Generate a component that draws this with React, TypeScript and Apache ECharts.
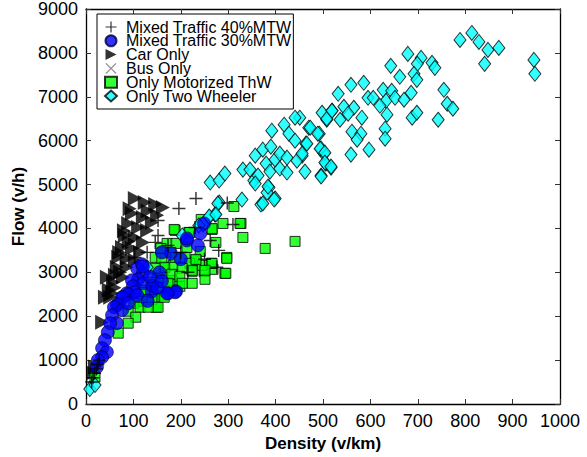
import React, { useEffect, useRef } from "react";
import * as echarts from "echarts";

const xTicks = { min: 0, max: 1000, interval: 100 };
const yTicks = { min: 0, max: 9000, interval: 1000 };

const seriesNames = [
  "Mixed Traffic 40%MTW",
  "Mixed Traffic 30%MTW",
  "Car Only",
  "Bus Only",
  "Only Motorized ThW",
  "Only Two Wheeler",
];

const mixed40: number[][] = [
  [12, 500], [15, 600], [18, 700], [22, 800], [25, 900], [28, 1000],
  [232, 4682], [196, 4455], [152, 4182], [298, 4580], [310, 4091], [262, 3727],
  [230, 4023], [276, 3114], [146, 3682], [129, 3455], [103, 3341], [152, 3841],
  [173, 3614], [200, 3450], [250, 3300], [215, 3000], [280, 3500],
];

const mixed30: number[][] = [
  [249, 4114], [241, 3886], [213, 3727], [236, 3614], [179, 3432], [160, 3455],
  [190, 2568], [173, 2523], [139, 2568], [213, 3773], [118, 3182], [108, 3091],
  [120, 2977], [110, 2841], [97, 2818], [120, 2750], [99, 2682], [103, 2545],
  [86, 2523], [76, 2432], [188, 2545], [171, 2523], [65, 2250], [89, 2500],
  [78, 2432], [68, 2273], [59, 2205], [76, 2136], [55, 2023], [65, 1841],
  [51, 1841], [46, 1636], [40, 1455], [34, 1273], [44, 1182], [34, 1068],
  [25, 1000], [23, 841], [89, 2295], [108, 2477], [120, 3136], [200, 3300],
  [155, 3000], [140, 2700], [130, 2350], [150, 2650], [135, 2900], [160, 2800],
];

const carOnly: number[][] = [
  [103, 4682], [124, 4591], [146, 4545], [162, 4477], [97, 4341], [120, 4250],
  [139, 4136], [89, 4114], [110, 4023], [129, 3955], [82, 3841], [103, 3795],
  [120, 3682], [76, 3568], [97, 3545], [114, 3455], [68, 3341], [86, 3318],
  [103, 3273], [65, 3114], [86, 3114], [61, 2932], [78, 2886], [57, 2773],
  [55, 2523], [51, 2432], [44, 2886], [40, 2432], [34, 1864], [19, 841],
  [15, 705], [72, 3000], [60, 2650], [48, 2600], [92, 4450], [130, 4400],
  [150, 4300], [70, 3450], [90, 3700], [80, 3950],
];

const busOnly: number[][] = [
  [10, 450], [14, 560], [18, 650], [22, 760], [27, 880],
];

const motorizedThW: number[][] = [
  [331, 3795], [378, 3545], [441, 3705], [274, 3682], [297, 3341], [293, 2977],
  [268, 3068], [264, 3205], [249, 3023], [251, 2841], [224, 2750], [241, 3477],
  [232, 3273], [209, 3341], [219, 3205], [245, 3159], [224, 3023], [327, 4114],
  [312, 4500], [289, 4114], [266, 3977], [243, 4205], [217, 3909], [188, 3955],
  [171, 3659], [190, 3659], [232, 3295], [266, 3205], [297, 3318], [295, 2977],
  [251, 3045], [162, 3455], [167, 3114], [184, 3159], [203, 3091], [224, 3045],
  [146, 3341], [150, 2886], [162, 2886], [181, 2818], [198, 2682], [177, 2591],
  [162, 2477], [146, 2432], [148, 2205], [213, 3568], [186, 3977], [219, 3909],
  [158, 3545], [179, 3455], [160, 3318], [188, 3341], [165, 3114], [146, 3091],
  [181, 2955], [198, 2909], [141, 2773], [124, 2591], [156, 2636], [173, 2750],
  [203, 2750], [103, 2409], [139, 2386], [116, 2341], [152, 2205], [124, 2545],
  [165, 2432], [131, 2386], [118, 2341], [101, 2295], [114, 2205], [131, 2205],
  [89, 2114], [105, 1977], [89, 1841], [68, 1614], [19, 614], [325, 4114],
  [266, 4000],
];

const twoWheeler: number[][] = [
  [789, 8295], [814, 8455], [829, 8250], [848, 8068], [871, 8114], [841, 7750],
  [945, 7840], [947, 7523], [679, 7977], [707, 7886], [699, 7750], [643, 7705],
  [730, 7773], [736, 7659], [662, 7455], [692, 7523], [698, 7386], [559, 7273],
  [586, 7318], [532, 7068], [627, 7159], [645, 7136], [686, 7091], [755, 7159],
  [595, 6977], [606, 6977], [633, 6909], [652, 6977], [671, 6932], [762, 6841],
  [774, 6727], [620, 6795], [635, 6591], [688, 6523], [698, 6636], [743, 6477],
  [544, 6773], [565, 6750], [498, 6636], [519, 6682], [508, 6477], [536, 6477],
  [553, 6614], [582, 6523], [451, 6523], [470, 6295], [492, 6159], [561, 6205],
  [580, 6159], [572, 6023], [631, 6273], [631, 6045], [597, 5795], [559, 5682],
  [496, 5818], [502, 5705], [506, 5477], [517, 5386], [496, 5205], [464, 5932],
  [456, 5659], [462, 5295],
  [262, 5045], [281, 5091], [293, 5250], [331, 5341], [346, 5341], [354, 5091],
  [363, 5205], [357, 5659], [373, 5795], [390, 5864], [380, 5477], [388, 5295],
  [386, 4932], [382, 4818], [399, 4682], [369, 4545], [329, 4659], [281, 4591],
  [272, 4318], [259, 4250], [247, 4091], [392, 6227], [418, 6364], [428, 6159],
  [441, 6000], [399, 5568], [409, 5705], [424, 5614], [409, 5364], [424, 5273],
  [445, 5545], [456, 5705], [466, 5932], [441, 6523], [473, 6295],
  [489, 6159], [494, 5818], [504, 5727], [504, 5500], [517, 5409], [496, 5182],
  [508, 6500], [519, 6682],
  [278, 4568], [357, 5023], [384, 4955], [373, 4568], [397, 4659], [260, 4273],
  [274, 4318], [203, 3841], [238, 4068], [129, 3114], [8, 341], [19, 432],
];

const plusPath = "path://M0,4.45H10V5.55H0Z M4.45,0H5.55V10H4.45Z";
const crossPath =
  "path://M0,0.8L0.8,0L5,4.2L9.2,0L10,0.8L5.8,5L10,9.2L9.2,10L5,5.8L0.8,10L0,9.2L4.2,5Z";
const rightTriPath = "path://M0,0L10,5L0,10Z";

export default function App() {
  const ref = useRef<HTMLDivElement>(null);
  useEffect(() => {
    if (!ref.current) return;
    const chart = echarts.init(ref.current, undefined, { renderer: "svg" });
    const font = "Liberation Sans, Arial, sans-serif";
    const line = { show: true, onZero: false, lineStyle: { color: "#000", width: 1.3 } };
    const tick = { inside: true, length: 5, lineStyle: { color: "#333" } };
    const baseX = {
      type: "value" as const,
      min: xTicks.min,
      max: xTicks.max,
      interval: xTicks.interval,
      splitLine: { show: false },
      axisLine: line,
      axisTick: tick,
    };
    const baseY = {
      type: "value" as const,
      min: yTicks.min,
      max: yTicks.max,
      interval: yTicks.interval,
      splitLine: { show: false },
      axisLine: line,
      axisTick: tick,
    };
    chart.setOption({
      animation: false,
      textStyle: { fontFamily: font },
      grid: { left: 86, right: 27, top: 8, bottom: 53, containLabel: false },
      legend: {
        orient: "vertical",
        left: 97,
        top: 14,
        data: seriesNames,
        backgroundColor: "#fff",
        borderColor: "#000",
        borderWidth: 1,
        borderRadius: 0,
        padding: [5, 2, 5, 7],
        itemWidth: 12,
        itemHeight: 11,
        itemGap: -2.2,
        textStyle: {
          fontSize: 16,
          color: "#000",
          lineHeight: 11,
          fontFamily: font,
          padding: [0, 0, 0, 4],
        },
      },
      xAxis: [
        {
          ...baseX,
          position: "bottom",
          axisLabel: { fontSize: 18, color: "#000", margin: 8, fontFamily: font, formatter: (v: number) => String(v) },
          name: "Density (v/km)",
          nameLocation: "middle",
          nameGap: 22,
          nameTextStyle: { fontSize: 17, fontWeight: "bold", color: "#000", fontFamily: font },
        },
        { ...baseX, position: "top", axisLabel: { show: false } },
      ],
      yAxis: [
        {
          ...baseY,
          position: "left",
          axisLabel: { fontSize: 18, color: "#000", margin: 8, fontFamily: font, formatter: (v: number) => String(v) },
          name: "Flow (v/h)",
          nameLocation: "middle",
          nameGap: 44,
          nameTextStyle: { fontSize: 17, fontWeight: "bold", color: "#000", fontFamily: font },
        },
        { ...baseY, position: "right", axisLabel: { show: false } },
      ],
      series: [
        {
          name: seriesNames[0],
          type: "scatter",
          data: mixed40,
          symbol: plusPath,
          symbolSize: 13,
          itemStyle: { color: "#000" },
          z: 4,
        },
        {
          name: seriesNames[1],
          type: "scatter",
          data: mixed30,
          symbol: "circle",
          symbolSize: 13,
          itemStyle: { color: "#0000ff", borderColor: "#000033", borderWidth: 0.8 },
          z: 3,
        },
        {
          name: seriesNames[2],
          type: "scatter",
          data: carOnly,
          symbol: rightTriPath,
          symbolSize: [14, 15],
          itemStyle: { color: "#000" },
          z: 2,
        },
        {
          name: seriesNames[3],
          type: "scatter",
          data: busOnly,
          symbol: crossPath,
          symbolSize: 8,
          itemStyle: { color: "#777" },
          z: 2,
        },
        {
          name: seriesNames[4],
          type: "scatter",
          data: motorizedThW,
          symbol: "rect",
          symbolSize: 10,
          itemStyle: { color: "#00ff00", borderColor: "#000", borderWidth: 1 },
          z: 2,
        },
        {
          name: seriesNames[5],
          type: "scatter",
          data: twoWheeler,
          symbol: "diamond",
          symbolSize: [12, 15],
          itemStyle: { color: "#00ffff", borderColor: "#000", borderWidth: 1 },
          z: 2,
        },
      ],
    });
    return () => chart.dispose();
  }, []);
  return (
    <div
      ref={ref}
      style={{ position: "fixed", left: 0, top: 0, width: 587, height: 457, background: "#fff" }}
    />
  );
}
